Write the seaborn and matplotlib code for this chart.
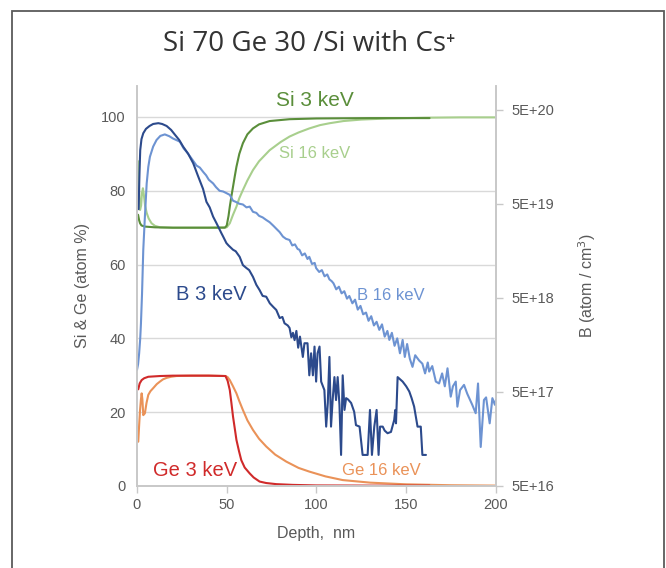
import numpy as np
import pandas as pd
import seaborn as sns
import matplotlib
matplotlib.use("Agg")
import matplotlib.pyplot as plt
from matplotlib.patches import Rectangle
from matplotlib.ticker import FixedLocator, NullLocator

# Si / Ge composition (atom %)
si3_depth = [0.6, 1.2, 1.7, 2.5, 4.4, 10, 20, 30, 40, 49, 50, 51, 51.7, 52.6, 53.5, 54.5, 55.4,
             57, 59, 61.5, 64.6, 68, 73.9, 85, 100, 130, 163]
si3 = [73.5, 72, 71.2, 70.6, 70.3, 70.1, 70.0, 70.0, 70.0, 70.0, 70.6, 73.2, 75.7, 78.5, 81.1, 84,
       86.5, 90, 92.9, 95.3, 96.9, 98, 98.9, 99.4, 99.6, 99.7, 99.7]

si16_depth = [0.7, 1.2, 1.7, 2.3, 2.8, 3.3, 3.8, 4.5, 5.4, 6.5, 8.1, 10, 12.8, 20, 30, 40, 50, 51.7,
              53.5, 55.4, 57, 59, 61.5, 64.6, 68, 73.9, 80, 85, 90, 96, 102, 107.2, 115, 125, 140,
              160, 180, 200]
si16 = [88, 80, 74.8, 76, 79.5, 80.7, 79, 76, 74, 72.5, 71.2, 70.5, 70.1, 70.0, 70.0, 70.0, 70.1,
        71.2, 73.5, 75.7, 78, 80.2, 82.8, 85.6, 88, 91, 93.2, 94.7, 95.8, 96.9, 97.8, 98.3, 98.9,
        99.3, 99.6, 99.8, 99.9, 99.9]

ge3_depth = [0.7, 1.5, 2.6, 4, 6.3, 12.8, 20, 30, 40, 49.3, 50.5, 51.7, 52.6, 53.5, 54.5, 55.4,
             56.8, 58.1, 60, 62.8, 65, 68.3, 72, 77.6, 86.6, 100, 130, 163]
ge3 = [26.2, 27.8, 28.7, 29.2, 29.6, 29.8, 29.9, 29.9, 29.9, 29.8, 28.5, 26, 22.5, 18.8, 15.5, 12.5,
       9.5, 7, 5, 3.4, 2.3, 1.2, 0.8, 0.5, 0.3, 0.15, 0.1, 0.1]

ge16_depth = [0.7, 1.2, 1.7, 2.2, 2.6, 3.0, 3.5, 4.4, 5.3, 6.3, 7.5, 9, 11, 12.8, 14.5, 16.5, 19, 22,
              30, 40, 49.3, 50.5, 51.7, 53.5, 55.4, 57, 59, 61.5, 64.6, 68, 72, 77, 83.2, 90, 96,
              105, 114.6, 130, 150, 175, 200]
ge16 = [12, 16.5, 20.6, 23.5, 25.1, 23.5, 19.2, 19.7, 22.5, 24.7, 25.7, 26.5, 27.6, 28.3, 28.9,
        29.3, 29.6, 29.8, 29.9, 29.9, 29.8, 29.5, 28.7, 27, 25.1, 23, 20.6, 17.8, 15.2, 12.8, 10.7,
        8.5, 6.6, 4.9, 3.9, 2.6, 1.6, 0.9, 0.45, 0.2, 0.1]

# boron (atom / cm3), right log axis
b3_depth = [0.9, 1.4, 1.8, 2.5, 3.5, 5, 7, 9, 11.9, 14,
            16.5, 19, 21, 23.5, 25.7, 28.5, 31.3, 34, 36.8, 38.7,
            40.5, 42.4, 44.3, 45.2, 47, 48, 49.8, 51, 53.5, 55,
            57.2, 59, 61, 62.5, 64.6, 66.5, 68.3, 70, 72, 74,
            76, 77.6, 79.5, 81, 82.2, 84, 85, 86, 86.9, 87.8,
            88.8, 89.8, 90.8, 92.4, 93.3, 95, 96, 97, 98, 98.9,
            99.8, 100.6, 101.7, 102.6, 104.4, 105.4, 106.3, 107.2, 108.1, 109,
            110, 110.9, 111.8, 112.8, 113.7, 114.6, 115.6, 116.5, 117.5, 119.3,
            121, 122, 124, 125.7, 128.5, 129.8, 130.9, 132.2, 133.5, 134.6,
            135.4, 136.9, 138, 139.6, 141.5, 143.3, 143.9, 144.3, 145.2, 148,
            150, 151.7, 153, 154.4, 156.3, 158.1, 159, 161]
b3 = [4.4e19, 1.09e20, 1.87e20, 2.45e20, 2.83e20, 3.15e20, 3.38e20, 3.55e20, 3.62e20, 3.55e20,
      3.38e20, 3.07e20, 2.75e20, 2.4e20, 2.04e20, 1.71e20, 1.36e20, 9.92e19, 7.23e19, 5.27e19,
      4.6e19, 3.67e19, 3.12e19, 2.88e19, 2.45e19, 2.25e19, 1.92e19, 1.81e19, 1.63e19, 1.57e19,
      1.37e19, 1.12e19, 1.04e19, 9.9e18, 8.4e18, 6.9e18, 6.07e18, 5.26e18, 5.16e18, 4.39e18,
      4.0e18, 3.73e18, 3.06e18, 3.14e18, 2.69e18, 2.55e18, 2.4e18, 1.91e18, 2.13e18, 1.78e18,
      2.23e18, 1.48e18, 1.94e18, 1.18e18, 1.65e18, 1.65e18, 7.52e17, 1.29e18, 7.52e17, 1.52e18,
      6.45e17, 1.29e18, 1.52e18, 6.45e17, 5.24e17, 2.14e17, 3.82e17, 1.18e18, 2.14e17, 4.1e17,
      7.2e17, 4.1e17, 7.2e17, 3.65e17, 1.07e17, 7.52e17, 3.22e17, 4.3e17, 4.18e17, 3.82e17,
      3.08e17, 2.22e17, 2.14e17, 1.07e17, 1.07e17, 3.22e17, 1.07e17, 2.14e17, 3.22e17, 1.07e17,
      2.14e17, 2.14e17, 1.94e17, 1.82e17, 1.88e17, 2.52e17, 3.22e17, 2.32e17, 7.2e17, 6.45e17,
      5.74e17, 5.06e17, 4.3e17, 3.5e17, 2.14e17, 2.14e17, 1.07e17, 1.07e17]

b16_depth = [0.0, 0.6, 1.2, 1.8, 2.2, 2.8, 3.5, 4.4, 5.4, 6.3,
             7.2, 9, 10.9, 13, 15.5, 18, 20, 23.9, 26, 28,
             30, 33.2, 35, 37, 38.5, 40, 42.4, 44, 46, 48,
             50, 51.7, 53.5, 55, 57, 59, 61, 62.8, 64.6, 66.5,
             68, 70, 72, 73.9, 76, 78, 79.5, 81.3, 83, 85,
             86.5, 88, 89.5, 90.5, 92, 93.5, 95, 96, 97.5, 99,
             99.8, 101.5, 103, 104.5, 106, 107.2, 108.5, 109.5, 111, 112.5,
             114, 115.5, 117, 118.3, 120, 121.5, 123, 124.5, 126, 127.6,
             129, 130.5, 132, 133.5, 135, 136.5, 138, 139.5, 140.6, 142,
             143.5, 145, 146.5, 148, 149.2, 150.5, 152, 153.5, 155, 157.2,
             159, 160.5, 162, 162.8, 164.5, 166.5, 168.3, 170, 171.5, 173,
             174.8, 176, 177.6, 178.5, 180, 182.2, 184, 186.8, 188.7, 190,
             191.5, 193.3, 194.5, 196.5, 198, 199.4, 200]
b16 = [8.6e17, 9.87e17, 1.29e18, 1.86e18, 2.67e18, 5.5e18, 1.63e19, 3.67e19, 8.28e19, 1.24e20,
       1.59e20, 2.04e20, 2.4e20, 2.65e20, 2.75e20, 2.63e20, 2.49e20, 2.3e20, 1.95e20, 1.76e20,
       1.56e20, 1.28e20, 1.22e20, 1.09e20, 1.01e20, 9.06e19, 8.28e19, 7.56e19, 6.91e19, 6.79e19,
       6.5e19, 6.25e19, 5.42e19, 5.27e19, 5.03e19, 4.94e19, 4.6e19, 4.69e19, 4.13e19, 4.02e19,
       3.74e19, 3.6e19, 3.38e19, 3.2e19, 2.93e19, 2.68e19, 2.51e19, 2.25e19, 2.13e19, 2.07e19,
       1.81e19, 1.86e19, 1.66e19, 1.63e19, 1.42e19, 1.49e19, 1.3e19, 1.37e19, 1.15e19, 1.18e19,
       1.04e19, 9.46e18, 9.9e18, 8.5e18, 8.9e18, 7.89e18, 7.54e18, 7.15e18, 6.18e18, 6.59e18,
       5.6e18, 5.9e18, 4.92e18, 5.25e18, 4.39e18, 4.8e18, 3.76e18, 4.12e18, 3.35e18, 3.5e18,
       2.86e18, 3.2e18, 2.55e18, 2.79e18, 2.29e18, 2.62e18, 1.94e18, 2.23e18, 1.79e18, 2.13e18,
       1.55e18, 1.86e18, 1.29e18, 1.79e18, 1.18e18, 1.62e18, 1.13e18, 9.25e17, 1.23e18, 1.08e18,
       1.0e18, 7.88e17, 1.03e18, 8.24e17, 9.43e17, 6.45e17, 6.16e17, 7.88e17, 5.74e17, 8.93e17,
       4.46e17, 5.74e17, 6.45e17, 3.49e17, 5.24e17, 5.95e17, 4.79e17, 3.65e17, 2.97e17, 6.16e17,
       1.3e17, 4.11e17, 4.38e17, 2.32e17, 4.3e17, 3.65e17, 4.11e17]

x_ticks = [0, 50, 100, 150, 200]
left_ticks = [0, 20, 40, 60, 80, 100]
right_ticks = [5e16, 5e17, 5e18, 5e19, 5e20]
right_labels = ["5E+16", "5E+17", "5E+18", "5E+19", "5E+20"]

sns.set_style("white")
plt.rcParams["font.family"] = ["Liberation Sans", "DejaVu Sans"]

c_si3, c_si16 = "#5a8e3a", "#a8cf8d"
c_ge3, c_ge16 = "#d02a2a", "#ea9258"
c_b3, c_b16 = "#2c4a8c", "#6d93d2"
grey = "#595959"
axc = "#c8c8c8"

fig = plt.figure(figsize=(6.66, 5.68), dpi=100)
ax = fig.add_axes([0.2057, 0.1444, 0.539, 0.7042])
ax2 = ax.twinx()

sns.lineplot(x=si16_depth, y=si16, ax=ax, color=c_si16, lw=1.5, estimator=None)
sns.lineplot(x=si3_depth, y=si3, ax=ax, color=c_si3, lw=1.5, estimator=None)
sns.lineplot(x=ge16_depth, y=ge16, ax=ax, color=c_ge16, lw=1.5, estimator=None)
sns.lineplot(x=ge3_depth, y=ge3, ax=ax, color=c_ge3, lw=1.5, estimator=None)

ax2.set_yscale("log")
sns.lineplot(x=b16_depth, y=b16, ax=ax2, color=c_b16, lw=1.5, estimator=None)
sns.lineplot(x=b3_depth, y=b3, ax=ax2, color=c_b3, lw=1.5, estimator=None)

ax.set_xlim(0, 200)
ax.set_ylim(0, 108.4)
ax2.set_ylim(5e16, 9.0e20)

ax.set_xticks(x_ticks)
ax.set_yticks(left_ticks)
ax.yaxis.grid(True, color="#d9d9d9", lw=1)
ax.xaxis.grid(False)
ax.set_axisbelow(True)
ax.tick_params(axis="y", length=0, labelsize=10.5, labelcolor=grey, pad=8)
ax.tick_params(axis="x", length=5, width=1, color=axc, direction="out", labelsize=10.5,
               labelcolor=grey, pad=4, bottom=True)

ax2.yaxis.set_major_locator(FixedLocator(right_ticks))
ax2.yaxis.set_minor_locator(NullLocator())
ax2.set_yticklabels(right_labels)
ax2.tick_params(axis="y", length=5, width=1, color=axc, direction="out", labelsize=10.5,
                labelcolor=grey, pad=6, right=True)
ax2.grid(False)

for a in (ax, ax2):
    a.spines["top"].set_visible(False)
    for s in ("left", "right", "bottom"):
        a.spines[s].set_color(axc)
        a.spines[s].set_linewidth(1.2)

ax.set_xlabel("Depth,  nm", color=grey, fontsize=11.5, labelpad=10)
ax.set_ylabel("Si & Ge (atom %)", color=grey, fontsize=11.5, labelpad=8)
ax2.set_ylabel("B (atom / cm$^3$)", color=grey, fontsize=11.5, labelpad=16)

# series labels
ax.text(99.2, 104.5, "Si 3 keV", color=c_si3, fontsize=15, ha="center", va="center")
ax.text(99.2, 90, "Si 16 keV", color=c_si16, fontsize=12, ha="center", va="center")
ax.text(41.5, 51.8, "B 3 keV", color=c_b3, fontsize=14.5, ha="center", va="center")
ax.text(141.3, 51.5, "B 16 keV", color=c_b16, fontsize=12, ha="center", va="center")
ax.text(32.5, 4.3, "Ge 3 keV", color=c_ge3, fontsize=14.5, ha="center", va="center")
ax.text(136, 4.1, "Ge 16 keV", color=c_ge16, fontsize=12, ha="center", va="center")

fig.text(0.464, 0.922, "Si 70 Ge 30 /Si with Cs\u207a", fontsize=20, color="#333333",
         ha="center", va="center", family=["Open Sans", "DejaVu Sans"])

fig.patches.append(Rectangle((12 / 666, -0.02), 652 / 666, 1.02 - 10.5 / 568,
                             transform=fig.transFigure, fill=False, edgecolor="#5a5a5a", lw=1.3))

fig.savefig("out.png", dpi=100)
